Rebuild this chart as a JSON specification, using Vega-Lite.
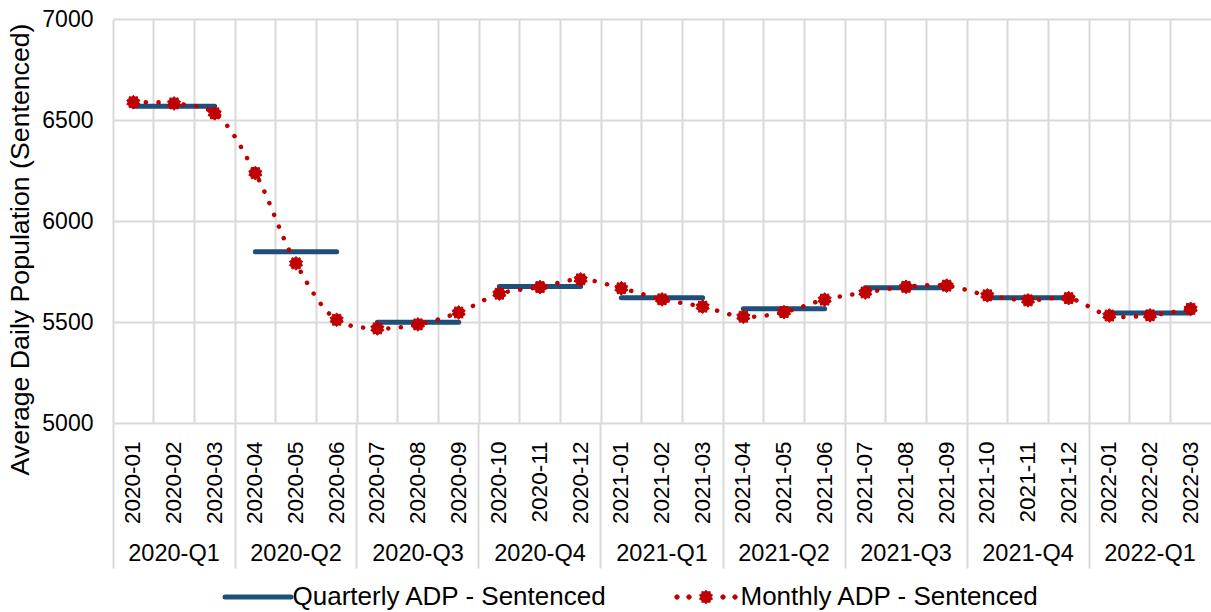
{
  "$schema": "https://vega.github.io/schema/vega-lite/v6.json",
  "width": 1098,
  "height": 404,
  "autosize": {"type": "none"},
  "padding": {"left": 113, "top": 19, "right": 0, "bottom": 189},
  "background": "white",
  "config": {
    "view": {"stroke": null},
    "font": "Liberation Sans",
    "axis": {"labelFont": "Liberation Sans", "titleFont": "Liberation Sans", "labelColor": "black", "titleColor": "black"}
  },
  "datasets": {
    "monthly": [
      {"month": "2020-01", "madp": 6588},
      {"month": "2020-02", "madp": 6582},
      {"month": "2020-03", "madp": 6533},
      {"month": "2020-04", "madp": 6237},
      {"month": "2020-05", "madp": 5790},
      {"month": "2020-06", "madp": 5511},
      {"month": "2020-07", "madp": 5468},
      {"month": "2020-08", "madp": 5488},
      {"month": "2020-09", "madp": 5547},
      {"month": "2020-10", "madp": 5640},
      {"month": "2020-11", "madp": 5673},
      {"month": "2020-12", "madp": 5711},
      {"month": "2021-01", "madp": 5667},
      {"month": "2021-02", "madp": 5612},
      {"month": "2021-03", "madp": 5576},
      {"month": "2021-04", "madp": 5526},
      {"month": "2021-05", "madp": 5549},
      {"month": "2021-06", "madp": 5611},
      {"month": "2021-07", "madp": 5646},
      {"month": "2021-08", "madp": 5674},
      {"month": "2021-09", "madp": 5680},
      {"month": "2021-10", "madp": 5632},
      {"month": "2021-11", "madp": 5607},
      {"month": "2021-12", "madp": 5618},
      {"month": "2022-01", "madp": 5532},
      {"month": "2022-02", "madp": 5533},
      {"month": "2022-03", "madp": 5565}
    ],
    "quarterly": [
      {"quarter": "2020-Q1", "start": "2020-01", "end": "2020-03", "qadp": 6568},
      {"quarter": "2020-Q2", "start": "2020-04", "end": "2020-06", "qadp": 5848},
      {"quarter": "2020-Q3", "start": "2020-07", "end": "2020-09", "qadp": 5499},
      {"quarter": "2020-Q4", "start": "2020-10", "end": "2020-12", "qadp": 5676},
      {"quarter": "2021-Q1", "start": "2021-01", "end": "2021-03", "qadp": 5620},
      {"quarter": "2021-Q2", "start": "2021-04", "end": "2021-06", "qadp": 5566},
      {"quarter": "2021-Q3", "start": "2021-07", "end": "2021-09", "qadp": 5669},
      {"quarter": "2021-Q4", "start": "2021-10", "end": "2021-12", "qadp": 5620},
      {"quarter": "2022-Q1", "start": "2022-01", "end": "2022-03", "qadp": 5545}
    ]
  },
  "resolve": {"axis": {"x": "independent"}},
  "layer": [
    {
      "data": {"name": "quarterly"},
      "mark": {"type": "rule", "strokeWidth": 5, "strokeCap": "round"},
      "encoding": {
        "x": {
          "field": "start",
          "type": "ordinal",
          "scale": {
            "type": "band",
            "paddingInner": 0,
            "paddingOuter": 0,
            "domain": ["2020-01","2020-02","2020-03","2020-04","2020-05","2020-06","2020-07","2020-08","2020-09","2020-10","2020-11","2020-12","2021-01","2021-02","2021-03","2021-04","2021-05","2021-06","2021-07","2021-08","2021-09","2021-10","2021-11","2021-12","2022-01","2022-02","2022-03"]
          },
          "axis": {
            "orient": "bottom",
            "title": null,
            "values": ["2020-02","2020-05","2020-08","2020-11","2021-02","2021-05","2021-08","2021-11","2022-02"],
            "bandPosition": -1,
            "ticks": true,
            "tickSize": 145,
            "tickColor": "#d9d9d9",
            "tickWidth": 2,
            "domain": false,
            "grid": false,
            "labelExpr": "slice(datum.value, 0, 4) + '-Q' + ceil(toNumber(slice(datum.value, 5, 7)) / 3)",
            "labelAngle": 0,
            "labelAlign": "center",
            "labelBaseline": "top",
            "labelPadding": -27,
            "labelFontSize": 23.5,
            "labelOverlap": false,
            "labelBound": false,
            "labelFlush": false
          }
        },
        "x2": {"field": "end"},
        "y": {
          "field": "qadp",
          "type": "quantitative",
          "title": "Average Daily Population (Sentenced)",
          "scale": {"domain": [5000, 7000], "nice": false, "zero": false},
          "axis": {
            "values": [5000, 5500, 6000, 6500, 7000],
            "format": "d",
            "grid": true,
            "gridColor": "#d9d9d9",
            "gridWidth": 2,
            "domain": false,
            "ticks": false,
            "tickSize": 0,
            "labelPadding": 20,
            "labelFontSize": 23,
            "titleFontSize": 26.7,
            "titleFontWeight": "normal",
            "titleAngle": 270,
            "titleAlign": "center",
            "titleBaseline": "alphabetic",
            "titleX": -85,
            "titleY": 230
          }
        },
        "color": {
          "datum": "Quarterly ADP - Sentenced",
          "type": "nominal",
          "scale": {"domain": ["Quarterly ADP - Sentenced", "Monthly ADP - Sentenced"], "range": ["#1f4e79", "#c00000"]},
          "legend": {
            "orient": "none",
            "legendX": 132,
            "legendY": 565,
            "direction": "horizontal",
            "title": null,
            "padding": 0,
            "labelFont": "Liberation Sans",
            "labelFontSize": 26,
            "labelColor": "black",
            "labelLimit": 600,
            "labelOffset": 21.5,
            "columnPadding": 65,
            "symbolSize": 4356,
            "encode": {
              "symbols": {
                "update": {
                  "shape": {"signal": "datum.value === 'Monthly ADP - Sentenced' ? 'M-0.949,0a0.07,0.07 0 1,0 0.14,0a0.07,0.07 0 1,0 -0.14,0ZM-0.585,0a0.07,0.07 0 1,0 0.14,0a0.07,0.07 0 1,0 -0.14,0ZM0.445,0a0.07,0.07 0 1,0 0.14,0a0.07,0.07 0 1,0 -0.14,0ZM0.809,0a0.07,0.07 0 1,0 0.14,0a0.07,0.07 0 1,0 -0.14,0ZM0,-0.21L0.0506,-0.1558L0.1235,-0.1699L0.1325,-0.0963L0.1997,-0.0649L0.1638,0L0.1997,0.0649L0.1325,0.0963L0.1235,0.1699L0.0506,0.1558L0,0.21L-0.0506,0.1558L-0.1235,0.1699L-0.1325,0.0963L-0.1997,0.0649L-0.1638,0L-0.1997,-0.0649L-0.1325,-0.0963L-0.1235,-0.1699L-0.0506,-0.1558Z' : 'stroke'"},
                  "fill": {"signal": "datum.value === 'Monthly ADP - Sentenced' ? '#c00000' : 'transparent'"},
                  "stroke": {"signal": "datum.value === 'Monthly ADP - Sentenced' ? '#c00000' : '#1f4e79'"},
                  "strokeWidth": {"signal": "datum.value === 'Monthly ADP - Sentenced' ? 0.5 : 5"},
                  "strokeDash": {"value": [1, 0]},
                  "strokeCap": {"value": "round"},
                  "opacity": {"value": 1}
                }
              }
            }
          }
        }
      }
    },
    {
      "data": {"name": "monthly"},
      "mark": {"type": "line", "strokeWidth": 4.5, "strokeDash": [0.1, 12.5], "strokeCap": "round", "interpolate": "catmull-rom"},
      "encoding": {
        "x": {
          "field": "month",
          "type": "ordinal",
          "axis": {
            "orient": "bottom",
            "title": null,
            "grid": true,
            "bandPosition": 0,
            "gridColor": "#d9d9d9",
            "gridWidth": 2,
            "labels": false,
            "ticks": false,
            "domain": false,
            "zindex": 0
          }
        },
        "y": {"field": "madp", "type": "quantitative", "title": "Average Daily Population (Sentenced)"},
        "color": {"datum": "Monthly ADP - Sentenced", "type": "nominal"}
      }
    },
    {
      "data": {"name": "monthly"},
      "mark": {
        "type": "point",
        "shape": "M0,-1L0.241,-0.742L0.588,-0.809L0.631,-0.458L0.951,-0.309L0.78,0L0.951,0.309L0.631,0.458L0.588,0.809L0.241,0.742L0,1L-0.241,0.742L-0.588,0.809L-0.631,0.458L-0.951,0.309L-0.78,0L-0.951,-0.309L-0.631,-0.458L-0.588,-0.809L-0.241,-0.742Z",
        "filled": true,
        "size": 190,
        "opacity": 1,
        "stroke": "#c00000",
        "strokeWidth": 1
      },
      "encoding": {
        "x": {
          "field": "month",
          "type": "ordinal",
          "axis": {
            "orient": "bottom",
            "title": null,
            "grid": false,
            "ticks": false,
            "tickSize": 0,
            "domain": false,
            "labelAngle": 270,
            "labelAlign": "right",
            "labelBaseline": "middle",
            "labelPadding": 18,
            "labelFontSize": 22.5,
            "labelOverlap": false,
            "labelBound": false,
            "labelFlush": false
          }
        },
        "y": {"field": "madp", "type": "quantitative", "title": "Average Daily Population (Sentenced)"},
        "color": {"datum": "Monthly ADP - Sentenced", "type": "nominal"}
      }
    }
  ]
}
